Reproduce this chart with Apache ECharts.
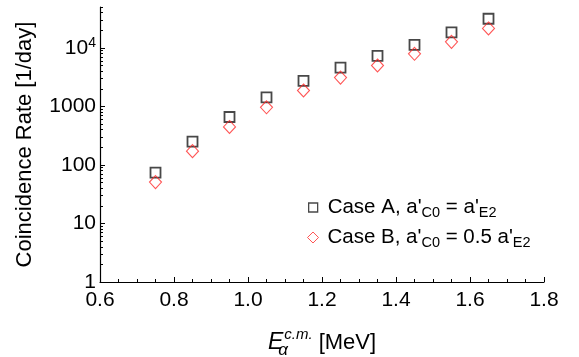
<!DOCTYPE html>
<html>
<head>
<meta charset="utf-8">
<script src="https://cdn.jsdelivr.net/npm/echarts@6/dist/echarts.min.js"></script>
<style>
  html, body { margin: 0; padding: 0; background: #fff; }
  #chart { width: 579px; height: 357px; }
</style>
</head>
<body>
<div id="chart"></div>
<script>
// Alpha-particle centre-of-mass energies [MeV]
const energies = [0.75, 0.85, 0.95, 1.05, 1.15, 1.25, 1.35, 1.45, 1.55, 1.65];
// Coincidence rates [1/day]
const caseA = [74, 250, 660, 1430, 2740, 4620, 7330, 11300, 18400, 31500];
const caseB = [51, 172, 446, 966, 1870, 3110, 5000, 7930, 12700, 21500];
// Axis ticks
const xTicks = [0.6, 0.8, 1.0, 1.2, 1.4, 1.6, 1.8];
const yDecades = [1, 10, 100, 1000, 10000];
const yMinor = [];
yDecades.forEach(d => {
  for (let k = 2; k <= 9; k++) {
    if (k * d <= 50000) yMinor.push(k * d);
  }
});

const FONT = 'Liberation Sans, Arial, sans-serif';
const chart = echarts.init(document.getElementById('chart'), null, { renderer: 'canvas' });

const toPairs = ys => energies.map((x, i) => [x, ys[i]]);

const legendRich = {
  t: { fontFamily: FONT, fontSize: 20.5, color: '#000' },
  sub: { fontFamily: FONT, fontSize: 14.5, color: '#000', verticalAlign: 'bottom', padding: [10, 0, 0, 0] }
};
const legendLabel = name => name === 'A'
  ? "{t|Case A, a'}{sub|C0}{t| = a'}{sub|E2}"
  : "{t|Case B, a'}{sub|C0}{t| = 0.5 a'}{sub|E2}";

chart.setOption({
  animation: false,
  backgroundColor: '#fff',
  textStyle: { fontFamily: FONT },
  grid: { left: 100, right: 35, top: 7, bottom: 75, containLabel: false, outerBoundsMode: 'none' },
  legend: [
    {
      left: 308, top: 197, padding: 0,
      itemWidth: 9, itemHeight: 9, itemGap: 0,
      textStyle: { fontFamily: FONT, fontSize: 20.5, color: '#000', padding: [0, 0, 0, 5], rich: legendRich },
      formatter: legendLabel,
      data: [{ name: 'A', itemStyle: { color: '#fff', borderColor: '#1a1a1a', borderWidth: 1.3 } }]
    },
    {
      left: 307, top: 227, padding: 0,
      itemWidth: 11, itemHeight: 11, itemGap: 0,
      textStyle: { fontFamily: FONT, fontSize: 20.5, color: '#000', padding: [0, 0, 0, 4], rich: legendRich },
      formatter: legendLabel,
      data: [{ name: 'B', itemStyle: { color: '#fff', borderColor: '#ff2a2a', borderWidth: 1 } }]
    }
  ],
  xAxis: {
    type: 'value',
    min: 0.6,
    max: 1.8,
    interval: 0.2,
    name: '{e|E}{sub|α}{sup|c.m.}{n| [MeV]}',
    nameLocation: 'middle',
    nameGap: 45,
    nameTextStyle: {
      fontFamily: FONT, color: '#000',
      rich: {
        e: { fontFamily: FONT, fontSize: 23, fontStyle: 'italic', color: '#000' },
        sub: { fontFamily: FONT, fontSize: 17, fontStyle: 'italic', color: '#000', width: 0, verticalAlign: 'bottom', padding: [15, 0, 0, 0] },
        sup: { fontFamily: FONT, fontSize: 15, fontStyle: 'italic', color: '#000', verticalAlign: 'top', padding: [0, 0, 11, 1] },
        n: { fontFamily: FONT, fontSize: 22, color: '#000' }
      }
    },
    axisLine: { lineStyle: { color: '#000', width: 1.2 } },
    axisTick: { inside: true, length: 5, lineStyle: { color: '#000' } },
    minorTick: { show: true, splitNumber: 4, length: 3, lineStyle: { color: '#000' } },
    splitLine: { show: false },
    axisLabel: {
      fontFamily: FONT, fontSize: 21, color: '#000', margin: 8,
      customValues: xTicks,
      formatter: v => v.toFixed(1)
    }
  },
  yAxis: [
    {
      type: 'log',
      logBase: 10,
      min: 1,
      max: 50000,
      name: 'Coincidence Rate [1/day]',
      nameLocation: 'middle',
      nameGap: 64,
      nameTextStyle: { fontFamily: FONT, fontSize: 22, color: '#000' },
      axisLine: { show: true, lineStyle: { color: '#000', width: 1.2 } },
      axisTick: { show: true, inside: true, length: 5, customValues: yDecades, lineStyle: { color: '#000' } },
      splitLine: { show: false },
      axisLabel: {
        fontFamily: FONT, fontSize: 21, color: '#000', margin: 4,
        customValues: yDecades,
        formatter: v => v >= 10000 ? '{b|10}{s|' + Math.round(Math.log10(v)) + '}' : String(v),
        rich: {
          b: { fontFamily: FONT, fontSize: 21, color: '#000' },
          s: { fontFamily: FONT, fontSize: 14, color: '#000', verticalAlign: 'top', padding: [0, 0, 10, 0] }
        }
      }
    },
    {
      // minor log ticks (2..9 per decade)
      type: 'log',
      logBase: 10,
      min: 1,
      max: 50000,
      position: 'left',
      axisLine: { show: false },
      axisTick: { show: true, inside: true, length: 3, customValues: yMinor, lineStyle: { color: '#000' } },
      axisLabel: { show: false },
      splitLine: { show: false }
    }
  ],
  series: [
    {
      name: 'A',
      type: 'scatter',
      data: toPairs(caseA),
      symbol: 'rect',
      symbolSize: 10,
      itemStyle: { color: 'rgba(255,255,255,0)', borderColor: '#1a1a1a', borderWidth: 1.8 }
    },
    {
      name: 'B',
      type: 'scatter',
      data: toPairs(caseB),
      symbol: 'diamond',
      symbolSize: [12, 13],
      itemStyle: { color: 'rgba(255,255,255,0)', borderColor: '#ff2a2a', borderWidth: 1.1 }
    }
  ]
});
</script>
</body>
</html>
